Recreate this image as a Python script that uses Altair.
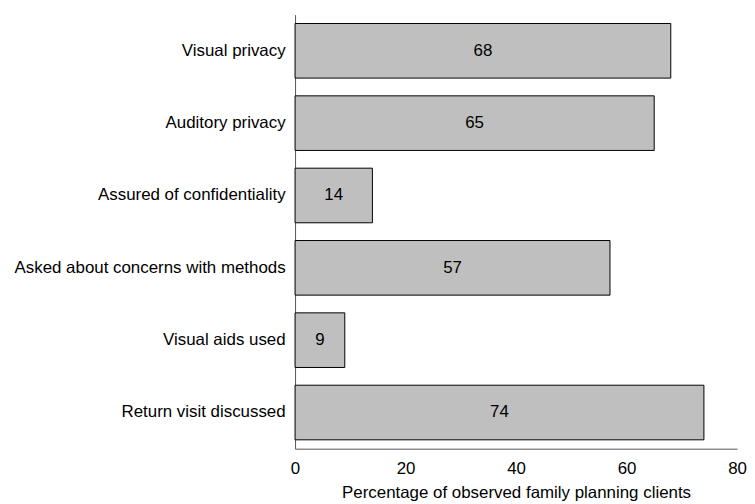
import altair as alt
import pandas as pd

categories = ["Visual privacy", "Auditory privacy", "Assured of confidentiality",
              "Asked about concerns with methods", "Visual aids used", "Return visit discussed"]
values = [68, 65, 14, 57, 9, 74]

df = pd.DataFrame({"cat": categories, "val": values})
df["mid"] = df["val"] / 2

FONT = "Liberation Sans"

y = alt.Y("cat:N", sort=categories, title=None,
          scale=alt.Scale(paddingInner=0.245, paddingOuter=0.1225),
          axis=alt.Axis(ticks=False, labelFont=FONT, labelFontSize=17, labelColor="black",
                        labelPadding=10, domainColor="#555555", labelLimit=400))
x = alt.X("val:Q", title="Percentage of observed family planning clients",
          scale=alt.Scale(domain=[0, 80], nice=False),
          axis=alt.Axis(values=[0, 20, 40, 60, 80], ticks=False, grid=False, labelFlush=False,
                        labelFont=FONT, labelFontSize=17, labelColor="black", labelPadding=12,
                        titleFont=FONT, titleFontSize=17, titleFontWeight="normal",
                        titleColor="black", titlePadding=8, domainColor="#555555"))

bars = alt.Chart(df).mark_bar(color="#bfbfbf", stroke="black", strokeWidth=1).encode(x=x, y=y)
text = alt.Chart(df).mark_text(font=FONT, fontSize=17, color="black").encode(
    x=alt.X("mid:Q"), y=alt.Y("cat:N", sort=categories), text="val:Q")

chart = (bars + text).properties(
    width=445, height=437,
    padding={"left": 5, "top": 5, "right": 0, "bottom": 0},
).configure_view(stroke=None).configure_axis(grid=False)
chart.save("out.html", embed_options={"renderer": "svg", "actions": False})
